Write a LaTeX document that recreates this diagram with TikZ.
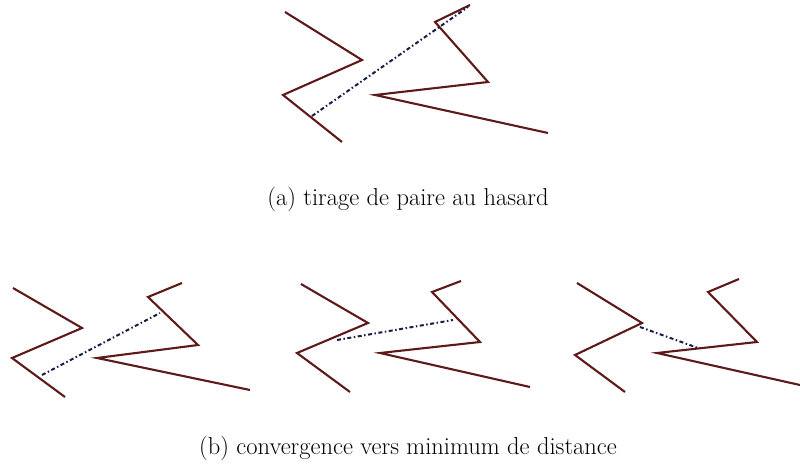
\documentclass[tikz,border=0pt]{standalone}
\usepackage{fontspec}
\begin{document}
\begin{tikzpicture}[x=1pt,y=-1pt,
  chain/.style={draw=chainred,line width=2.1pt,line join=miter},
  link/.style={draw=linkblue,line width=2pt,dash pattern=on 4pt off 2.5pt on 1.5pt off 2.5pt},
  caption/.style={font=\fontsize{24.5}{28}\selectfont,inner sep=0pt}]
\definecolor{chainred}{HTML}{5E1A1A}
\definecolor{linkblue}{HTML}{1C1C48}
\useasboundingbox (0,0) rectangle (800,473);
% (a)
\coordinate (a1) at (285,12); \coordinate (a2) at (362,60); \coordinate (a3) at (283,95); \coordinate (a4) at (342,142);
\coordinate (b1) at (470,5); \coordinate (b2) at (435,22); \coordinate (b3) at (488,82); \coordinate (b4) at (375,95); \coordinate (b5) at (548,133);
\coordinate (pa) at (312,116); \coordinate (qa) at (468,7);
\draw[chain] (a1) -- (a2) -- (a3) -- (a4);
\draw[chain] (b1) -- (b2) -- (b3) -- (b4) -- (b5);
\draw[link] (pa) -- (qa);
\node[caption] (capa) at (408,199) {(a) tirage de paire au hasard};
% (b1)
\coordinate (c1) at (13,288); \coordinate (c2) at (82,328); \coordinate (c3) at (12,358); \coordinate (c4) at (65,397);
\coordinate (d1) at (182,283); \coordinate (d2) at (148,297); \coordinate (d3) at (198,345); \coordinate (d4) at (97,358); \coordinate (d5) at (250,390);
\coordinate (pb) at (42,375); \coordinate (qb) at (160,313);
\draw[chain] (c1) -- (c2) -- (c3) -- (c4);
\draw[chain] (d1) -- (d2) -- (d3) -- (d4) -- (d5);
\draw[link] (pb) -- (qb);
% (b2)
\coordinate (e1) at (301,284); \coordinate (e2) at (368,323); \coordinate (e3) at (297,353); \coordinate (e4) at (350,392);
\coordinate (f1) at (461,281); \coordinate (f2) at (432,292); \coordinate (f3) at (480,342); \coordinate (f4) at (380,353); \coordinate (f5) at (530,387);
\coordinate (pc) at (337,340); \coordinate (qc) at (453,320);
\draw[chain] (e1) -- (e2) -- (e3) -- (e4);
\draw[chain] (f1) -- (f2) -- (f3) -- (f4) -- (f5);
\draw[link] (pc) -- (qc);
% (b3)
\coordinate (g1) at (577,283); \coordinate (g2) at (642,323); \coordinate (g3) at (575,355); \coordinate (g4) at (625,392);
\coordinate (h1) at (739,279); \coordinate (h2) at (708,292); \coordinate (h3) at (757,342); \coordinate (h4) at (657,353); \coordinate (h5) at (800,385);
\coordinate (pd) at (640,327); \coordinate (qd) at (698,348);
\draw[chain] (g1) -- (g2) -- (g3) -- (g4);
\draw[chain] (h1) -- (h2) -- (h3) -- (h4) -- (h5);
\draw[link] (pd) -- (qd);
\node[caption] (capb) at (408,448) {(b) convergence vers minimum de distance};
\end{tikzpicture}
\end{document}
